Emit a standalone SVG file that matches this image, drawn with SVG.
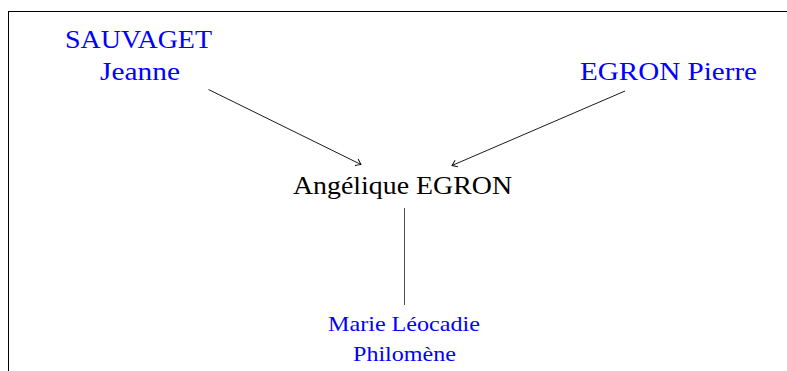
<svg xmlns="http://www.w3.org/2000/svg" width="787" height="371" viewBox="0 0 787 371">
<defs>
<marker id="to" viewBox="-6 -5 8 10" refX="0" refY="0" markerWidth="8" markerHeight="10" markerUnits="userSpaceOnUse" orient="auto">
<path d="M-5,-3.6 Q-1.5,-1 0,0 Q-1.5,1 -5,3.6" fill="none" stroke="#000" stroke-width="0.9"/>
</marker>
</defs>
<rect width="787" height="371" fill="#fff"/>
<rect x="8.5" y="11.5" width="790" height="370" fill="none" stroke="#000" stroke-width="1"/>
<g id="connectors" stroke="#000" fill="none">
<line stroke-width="0.9" x1="208.5" y1="89.5" x2="361" y2="164.5" marker-end="url(#to)"/>
<line stroke-width="0.9" x1="625" y1="91" x2="452" y2="165.5" marker-end="url(#to)"/>
<line stroke-width="0.7" x1="404.5" y1="208" x2="404.5" y2="305"/>
</g>
<g id="sauvaget_jeanne" fill="#0000ff">
<text font-family="Liberation Serif" font-size="26" text-anchor="middle" x="138.5" y="48" textLength="147" lengthAdjust="spacingAndGlyphs">SAUVAGET</text>
<text font-family="Liberation Serif" font-size="26" text-anchor="middle" x="140" y="80" textLength="80" lengthAdjust="spacingAndGlyphs">Jeanne</text>
</g>
<g id="egron_pierre" fill="#0000ff">
<text font-family="Liberation Serif" font-size="26" text-anchor="middle" x="668.5" y="80" textLength="177" lengthAdjust="spacingAndGlyphs">EGRON Pierre</text>
</g>
<g id="angelique_egron" fill="#000000">
<text font-family="Liberation Serif" font-size="26" text-anchor="middle" x="402.5" y="194" textLength="219" lengthAdjust="spacingAndGlyphs">Angélique EGRON</text>
</g>
<g id="marie_leocadie" fill="#0000ff">
<text font-family="Liberation Serif" font-size="22" text-anchor="middle" x="404" y="331" textLength="152" lengthAdjust="spacingAndGlyphs">Marie Léocadie</text>
<text font-family="Liberation Serif" font-size="22" text-anchor="middle" x="404.5" y="361" textLength="103" lengthAdjust="spacingAndGlyphs">Philomène</text>
</g>
</svg>
